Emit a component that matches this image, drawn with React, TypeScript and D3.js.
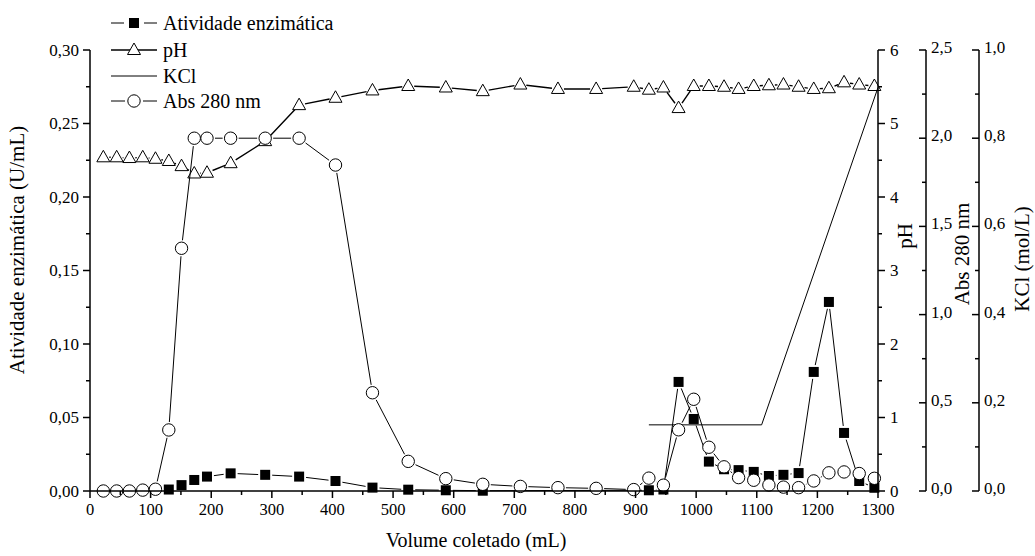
import React from 'react';
import * as d3 from 'd3';

// ---------- data ----------
const volume = [22, 44, 65, 87, 108, 130, 151, 172, 193, 232, 289, 345, 405, 466, 525, 587, 648, 710, 772, 835, 897, 922, 946, 971, 996, 1021, 1046, 1070, 1095, 1120, 1144, 1169, 1194, 1219, 1244, 1269, 1294];
const phValues = [4.54, 4.54, 4.53, 4.54, 4.52, 4.49, 4.42, 4.32, 4.33, 4.46, 4.76, 5.25, 5.35, 5.45, 5.51, 5.49, 5.44, 5.53, 5.47, 5.47, 5.5, 5.46, 5.49, 5.21, 5.51, 5.51, 5.5, 5.47, 5.51, 5.52, 5.53, 5.5, 5.47, 5.48, 5.56, 5.53, 5.51];
const absValues = [0, 0, 0, 0.005, 0.01, 0.346, 1.376, 2.0, 2.0, 2.0, 2.0, 2.0, 1.848, 0.557, 0.168, 0.07, 0.038, 0.026, 0.019, 0.015, 0.008, 0.073, 0.033, 0.347, 0.52, 0.248, 0.137, 0.076, 0.061, 0.034, 0.022, 0.019, 0.057, 0.103, 0.108, 0.099, 0.072];
const activityVolume = [130, 151, 172, 193, 232, 289, 345, 405, 466, 525, 587, 648, 922, 946, 971, 996, 1021, 1046, 1070, 1095, 1120, 1144, 1169, 1194, 1219, 1244, 1269, 1294];
const activityValues = [0.001, 0.004, 0.0075, 0.0098, 0.012, 0.011, 0.0098, 0.0068, 0.0023, 0.0009, 0.0005, 0.0002, 0.0005, 0.001, 0.0742, 0.049, 0.02, 0.0148, 0.0142, 0.013, 0.0102, 0.011, 0.0122, 0.081, 0.1286, 0.0395, 0.0068, 0.0022];
const kclVolume = [922, 1108, 1300];
const kclValues = [0.15, 0.15, 0.915];

const xTicks = [0, 100, 200, 300, 400, 500, 600, 700, 800, 900, 1000, 1100, 1200, 1300];
const actTicks = [0, 0.05, 0.1, 0.15, 0.2, 0.25, 0.3];
const phTicks = [0, 1, 2, 3, 4, 5, 6];
const absTicks = [0, 0.5, 1.0, 1.5, 2.0, 2.5];
const kclTicks = [0, 0.2, 0.4, 0.6, 0.8, 1.0];

const legendLabels = ['Atividade enzimática', 'pH', 'KCl', 'Abs 280 nm'];

// ---------- layout ----------
const W = 1035, H = 556;
const L = 90, R = 878, T = 50, B = 491;
const FONT = '"Liberation Serif", "Times New Roman", serif';

const x = d3.scaleLinear().domain([0, 1300]).range([L, R]);
const yAct = d3.scaleLinear().domain([0, 0.3]).range([B, T]);
const yPh = d3.scaleLinear().domain([0, 6]).range([B, T]);
const yAbs = d3.scaleLinear().domain([0, 2.5]).range([B, T]);
const yKcl = d3.scaleLinear().domain([0, 1.0]).range([B, T]);

const comma = (f: string) => (v: number) => d3.format(f)(v).replace('.', ',');

type Pt = [number, number];

function gapped(pts: Pt[], d: number) {
  const segs: string[] = [];
  for (let i = 0; i < pts.length - 1; i++) {
    const [x1, y1] = pts[i];
    const [x2, y2] = pts[i + 1];
    const dx = x2 - x1, dy = y2 - y1;
    const len = Math.hypot(dx, dy);
    if (len <= 2 * d) continue;
    const ux = dx / len, uy = dy / len;
    segs.push(`M${x1 + ux * d},${y1 + uy * d}L${x2 - ux * d},${y2 - uy * d}`);
  }
  return segs.join('');
}

const triPath = (cx: number, cy: number, s = 1) =>
  `M${cx},${cy - 7 * s}L${cx + 6.5 * s},${cy + 4.5 * s}L${cx - 6.5 * s},${cy + 4.5 * s}Z`;

function Square({ cx, cy }: { cx: number; cy: number }) {
  return <rect x={cx - 5} y={cy - 5} width={10} height={10} fill="#000" />;
}
function Circle({ cx, cy }: { cx: number; cy: number }) {
  return <circle cx={cx} cy={cy} r={6.2} fill="#fff" stroke="#000" strokeWidth={1} />;
}
function Tri({ cx, cy }: { cx: number; cy: number }) {
  return <path d={triPath(cx, cy)} fill="#fff" stroke="#000" strokeWidth={1} />;
}

function LeftAxis() {
  const minor = d3.range(0, 0.3001, 0.025);
  return (
    <g>
      <line x1={L} x2={L} y1={T} y2={B} stroke="#000" strokeWidth={1.5} />
      {minor.map((v, i) => (
        <line key={i} x1={L} x2={L - (i % 2 === 0 ? 7 : 4)} y1={yAct(v)} y2={yAct(v)} stroke="#000" strokeWidth={1.5} />
      ))}
      {actTicks.map((v) => (
        <text key={v} x={L - 11} y={yAct(v)} dy="0.35em" textAnchor="end" fontSize={17} fontFamily={FONT}>
          {comma('.2f')(v)}
        </text>
      ))}
    </g>
  );
}

function BottomAxis() {
  const minor = d3.range(0, 1301, 50);
  return (
    <g>
      <line x1={L} x2={R} y1={B} y2={B} stroke="#000" strokeWidth={1.5} />
      {minor.map((v, i) => (
        <line key={i} x1={x(v)} x2={x(v)} y1={B} y2={B + (i % 2 === 0 ? 7 : 4)} stroke="#000" strokeWidth={1.5} />
      ))}
      {xTicks.map((v) => (
        <text key={v} x={x(v)} y={B + 24} textAnchor="middle" fontSize={16.5} fontFamily={FONT}>
          {v}
        </text>
      ))}
    </g>
  );
}

function PhAxis() {
  const minor = d3.range(0, 6.01, 0.5);
  return (
    <g>
      <line x1={R} x2={R} y1={T} y2={B} stroke="#000" strokeWidth={1.5} />
      {minor.map((v, i) => (
        <line key={i} x1={R} x2={R + (i % 2 === 0 ? 7 : 4)} y1={yPh(v)} y2={yPh(v)} stroke="#000" strokeWidth={1.5} />
      ))}
      {phTicks.map((v) => (
        <text key={v} x={R + 12} y={yPh(v)} dy="0.33em" textAnchor="start" fontSize={17} fontFamily={FONT}>
          {v}
        </text>
      ))}
    </g>
  );
}

function OffsetAxis({ ax, scale, ticks, minorStep, fmt }: { ax: number; scale: d3.ScaleLinear<number, number>; ticks: number[]; minorStep: number; fmt: (v: number) => string }) {
  const [d0, d1] = scale.domain();
  const minor = d3.range(d0, d1 + minorStep / 2, minorStep);
  return (
    <g>
      <line x1={ax} x2={ax} y1={T} y2={B} stroke="#000" strokeWidth={1.5} />
      {minor.map((v, i) => (
        <line key={i} x1={ax} x2={ax - (i % 2 === 0 ? 7 : 4)} y1={scale(v)} y2={scale(v)} stroke="#000" strokeWidth={1.5} />
      ))}
      {ticks.map((v) => (
        <text key={v} x={ax + 5} y={scale(v) - 3} dy="0.35em" textAnchor="start" fontSize={17} fontFamily={FONT}>
          {fmt(v)}
        </text>
      ))}
    </g>
  );
}

export default function App() {
  const actPts: Pt[] = activityVolume.map((v, i) => [x(v), yAct(activityValues[i])]);
  const phPts: Pt[] = volume.map((v, i) => [x(v), yPh(phValues[i])]);
  const absPts: Pt[] = volume.map((v, i) => [x(v), yAbs(absValues[i])]);
  const kclLine = d3.line<number>().x((v) => x(v)).y((_, i) => yKcl(kclValues[i]))(kclVolume) || '';

  const legendY = [23, 50, 76, 101];

  return (
    <svg width={W} height={H} style={{ position: 'absolute', left: 0, top: 0, background: '#fff' }} fontFamily={FONT}>
      <rect x={0} y={0} width={W} height={H} fill="#fff" />

      {/* Activity */}
      <path d={gapped(actPts, 7)} stroke="#000" strokeWidth={1} fill="none" />
      {actPts.map(([cx, cy], i) => <Square key={i} cx={cx} cy={cy} />)}

      {/* pH */}
      <path d={gapped(phPts, 6)} stroke="#000" strokeWidth={1.4} fill="none" />
      {phPts.map(([cx, cy], i) => <Tri key={i} cx={cx} cy={cy} />)}

      {/* KCl */}
      <path d={kclLine} stroke="#000" strokeWidth={1} fill="none" />

      {/* Abs */}
      <path d={gapped(absPts, 8)} stroke="#000" strokeWidth={1} fill="none" />
      {absPts.map(([cx, cy], i) => <Circle key={i} cx={cx} cy={cy} />)}

      <LeftAxis />
      <BottomAxis />
      <PhAxis />
      <OffsetAxis ax={926} scale={yAbs} ticks={absTicks} minorStep={0.25} fmt={comma('.1f')} />
      <OffsetAxis ax={979} scale={yKcl} ticks={kclTicks} minorStep={0.1} fmt={comma('.1f')} />

      {/* Axis titles */}
      <text x={476} y={547} textAnchor="middle" fontSize={20} fontFamily={FONT}>Volume coletado (mL)</text>
      <text transform="translate(24,250) rotate(-90)" textAnchor="middle" fontSize={21} fontFamily={FONT}>Atividade enzimática (U/mL)</text>
      <text transform="translate(912,236) rotate(-90)" textAnchor="middle" fontSize={21} fontFamily={FONT}>pH</text>
      <text transform="translate(969,254) rotate(-90)" textAnchor="middle" fontSize={21} fontFamily={FONT}>Abs 280 nm</text>
      <text transform="translate(1029,259) rotate(-90)" textAnchor="middle" fontSize={21} fontFamily={FONT}>KCl (mol/L)</text>

      {/* Legend */}
      <g>
        <line x1={111} x2={124} y1={legendY[0]} y2={legendY[0]} stroke="#000" strokeWidth={1} />
        <line x1={144} x2={157} y1={legendY[0]} y2={legendY[0]} stroke="#000" strokeWidth={1} />
        <Square cx={134} cy={legendY[0]} />

        <line x1={111} x2={157} y1={legendY[1]} y2={legendY[1]} stroke="#000" strokeWidth={1.4} />
        <Tri cx={134} cy={legendY[1]} />

        <line x1={111} x2={157} y1={legendY[2]} y2={legendY[2]} stroke="#000" strokeWidth={1} />

        <line x1={111} x2={125} y1={legendY[3]} y2={legendY[3]} stroke="#000" strokeWidth={1} />
        <line x1={143} x2={157} y1={legendY[3]} y2={legendY[3]} stroke="#000" strokeWidth={1} />
        <Circle cx={134} cy={legendY[3]} />

        {legendLabels.map((t, i) => (
          <text key={t} x={163} y={legendY[i]} dy="0.35em" fontSize={20} fontFamily={FONT}>{t}</text>
        ))}
      </g>
    </svg>
  );
}
